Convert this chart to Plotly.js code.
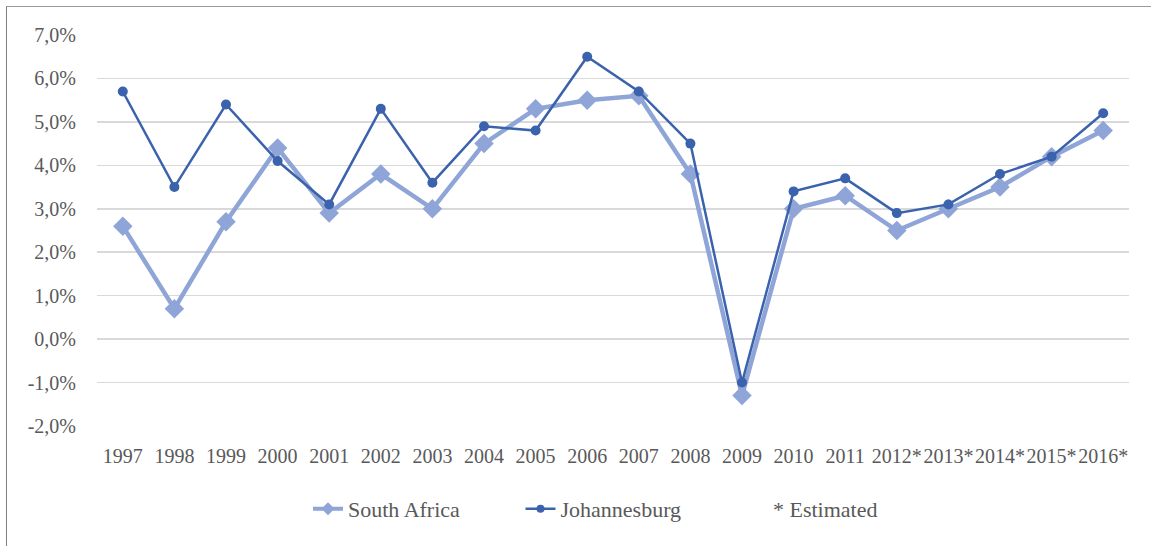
<!DOCTYPE html>
<html>
<head>
<meta charset="utf-8">
<script src="https://cdn.plot.ly/plotly-3.0.1.min.js"></script>
<style>
  html, body { margin: 0; padding: 0; background: #fff; }
  #wrap { position: relative; width: 1151px; height: 546px; overflow: hidden; }
  #chart { width: 1151px; height: 546px; }
  #frame { position: absolute; left: 6px; top: 6px; width: 1200px; height: 600px;
           border-left: 1px solid #7f7f7f; border-top: 1px solid #9a9a9a; pointer-events: none; }
</style>
</head>
<body>
<div id="wrap">
  <div id="chart"></div>
  <div id="frame"></div>
</div>
<script>
const years = ['1997','1998','1999','2000','2001','2002','2003','2004','2005','2006',
               '2007','2008','2009','2010','2011','2012*','2013*','2014*','2015*','2016*'];
const southAfrica = [2.6, 0.7, 2.7, 4.4, 2.9, 3.8, 3.0, 4.5, 5.3, 5.5,
                     5.6, 3.8, -1.3, 3.0, 3.3, 2.5, 3.0, 3.5, 4.2, 4.8];
const johannesburg = [5.7, 3.5, 5.4, 4.1, 3.1, 5.3, 3.6, 4.9, 4.8, 6.5,
                      5.7, 4.5, -1.0, 3.4, 3.7, 2.9, 3.1, 3.8, 4.2, 5.2];
const yTickVals = [-2, -1, 0, 1, 2, 3, 4, 5, 6, 7];
const yTickLabels = ['-2,0%', '-1,0%', '0,0%', '1,0%', '2,0%', '3,0%', '4,0%', '5,0%', '6,0%', '7,0%'];
const seriesNames = ['South Africa', 'Johannesburg', '* Estimated'];

const FONT = 'Liberation Serif, "Times New Roman", serif';
const TXT = '#595959';
const SA_COLOR = '#8fa5d7';
const JHB_COLOR = '#3a62ad';

const traces = [
  {
    x: years, y: southAfrica, name: seriesNames[0], type: 'scatter', mode: 'lines+markers',
    line: {color: SA_COLOR, width: 4.5},
    marker: {symbol: 'diamond', size: 15, color: SA_COLOR}, showlegend: false
  },
  {
    x: years, y: johannesburg, name: seriesNames[1], type: 'scatter', mode: 'lines+markers',
    line: {color: JHB_COLOR, width: 2.5},
    marker: {symbol: 'circle', size: 10, color: JHB_COLOR}, showlegend: false
  },
  // legend-only entries (smaller symbols, as in the reference legend)
  {
    x: [years[0]], y: [null], name: seriesNames[0], type: 'scatter', mode: 'lines+markers',
    line: {color: SA_COLOR, width: 4}, marker: {symbol: 'diamond', size: 10, color: SA_COLOR},
    hoverinfo: 'skip'
  },
  {
    x: [years[0]], y: [null], name: seriesNames[1], type: 'scatter', mode: 'lines+markers',
    line: {color: JHB_COLOR, width: 2.5}, marker: {symbol: 'circle', size: 8, color: JHB_COLOR},
    hoverinfo: 'skip'
  },
  {
    x: [years[0]], y: [null], name: seriesNames[2], type: 'scatter', mode: 'lines',
    line: {color: 'rgba(0,0,0,0)', width: 0}, hoverinfo: 'skip'
  }
];

const layout = {
  width: 1151, height: 546,
  margin: {l: 97, r: 22, t: 35, b: 120},
  paper_bgcolor: '#ffffff', plot_bgcolor: '#ffffff',
  font: {family: FONT, size: 20, color: TXT},
  showlegend: true,
  legend: {
    orientation: 'h', xref: 'container', yref: 'container',
    x: 0.2676, xanchor: 'left', y: 0.068, yanchor: 'middle',
    font: {family: FONT, size: 22, color: TXT},
    entrywidth: 167.5, entrywidthmode: 'pixels', tracegroupgap: 0
  },
  xaxis: {
    type: 'category', range: [-0.5, years.length - 0.5], tickangle: 0, showgrid: false, zeroline: false,
    showline: false, ticks: '', ticklabelstandoff: 16,
    tickfont: {family: FONT, size: 20, color: TXT}, fixedrange: true
  },
  yaxis: {
    range: [-2, 7], tickvals: yTickVals, ticktext: yTickLabels,
    showgrid: true, gridcolor: '#d9d9d9', gridwidth: 1.5,
    zeroline: false, showline: false, ticks: '', ticklabelstandoff: 20,
    tickfont: {family: FONT, size: 20, color: TXT}, fixedrange: true
  }
};

Plotly.newPlot('chart', traces, layout, {displayModeBar: false, staticPlot: true});
</script>
</body>
</html>
